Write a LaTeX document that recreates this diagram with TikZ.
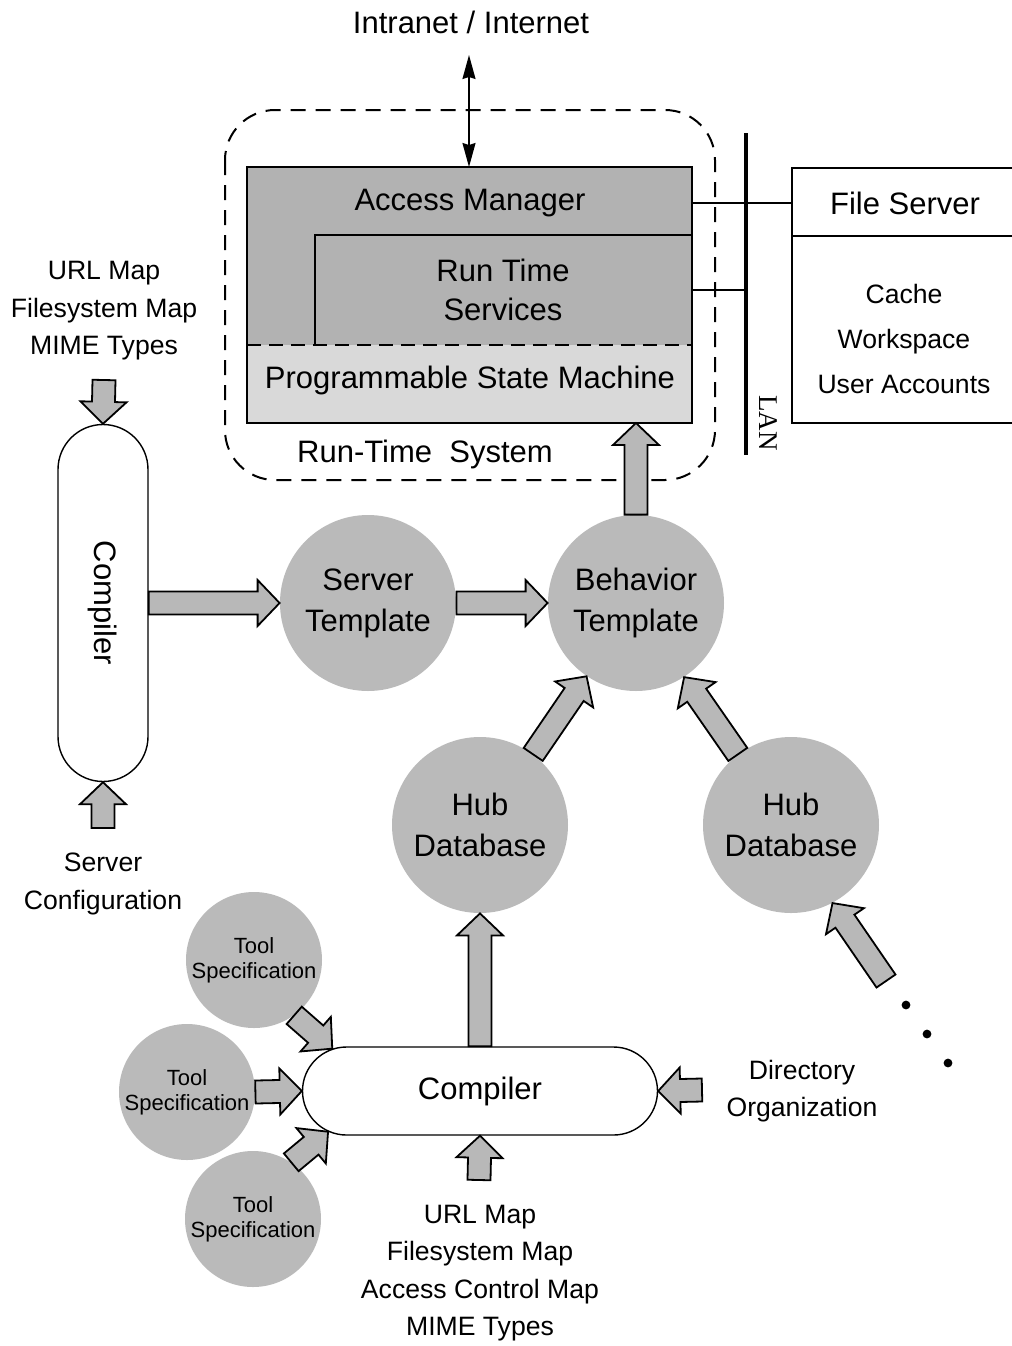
\documentclass[tikz,border=0pt]{standalone}
\usepackage{fontspec}
\setmainfont{Liberation Sans}
\newfontfamily\lanfont{Liberation Serif}
\usetikzlibrary{calc,shapes.misc,arrows.meta}
\tikzset{
  blob/.style={circle, fill=black!27, inner sep=0pt, minimum size=88pt, align=center, font=\fontsize{15.5}{20.5}\selectfont},
  toolblob/.style={blob, minimum size=68pt, font=\fontsize{11}{12.5}\selectfont},
  capsule/.style={rounded rectangle, draw, line width=0.7pt, fill=white, inner sep=0pt, font=\fontsize{15.5}{18}\selectfont},
  fatarrow/.style={draw, line width=0.9pt, fill=black!28, line join=miter},
  biglabel/.style={font=\fontsize{15.5}{20}\selectfont, align=center, inner sep=0pt},
  smalllabel/.style={font=\fontsize{13.3}{18.8}\selectfont, align=center, inner sep=0pt},
}
% block arrow from #1 to the tip #2
\newcommand{\fatarrow}[2]{%
  \coordinate (fa-t) at (#1);
  \coordinate (fa-p) at (#2);
  \coordinate (fa-h) at ($(fa-p)!11pt!(fa-t)$);
  \draw[fatarrow] ($(fa-t)!5.75pt!90:(fa-p)$) -- ($(fa-h)!5.75pt!90:(fa-p)$)
    -- ($(fa-h)!11.5pt!90:(fa-p)$) -- (fa-p) -- ($(fa-h)!11.5pt!-90:(fa-p)$)
    -- ($(fa-h)!5.75pt!-90:(fa-p)$) -- ($(fa-t)!5.75pt!-90:(fa-p)$) -- cycle;}

\begin{document}
\begin{tikzpicture}[x=0.5pt,y=-0.5pt]
  \useasboundingbox[fill=white] (0,0) rectangle (1012,1346);
  %
  % run-time system
  \node[biglabel] (inet) at (471,22) {Intranet / Internet};
  \coordinate (inetEnd) at (469,55);
  \draw[dash pattern=on 7.5pt off 5pt, line width=1pt, rounded corners=25pt] (225,110) rectangle (715,480);
  \coordinate (boxNW) at (247,167);
  \coordinate (boxSE) at (692,423);
  \coordinate (split) at (247,345);
  \fill[black!30] (boxNW) rectangle (boxSE |- split);
  \fill[black!15] (split) rectangle (boxSE);
  \draw[line width=0.6pt] (315,345) |- (692,235);
  \draw[dash pattern=on 7pt off 4pt, line width=0.9pt] (split) -- (split -| boxSE);
  \draw[line width=1.3pt] (boxNW) rectangle (boxSE);
  \node[biglabel] (am) at (470,203) {Access Manager};
  \node[biglabel, font=\fontsize{15.5}{19.5}\selectfont] (rtsv) at (503,290) {Run Time\\Services};
  \node[biglabel] (psm) at (470,380) {Programmable State Machine};
  \node[biglabel] (rtsys) at (425,454) {Run-Time\ \ System};
  \draw[{Stealth[length=12pt,width=6.5pt,inset=1pt]}-{Stealth[length=12pt,width=6.5pt,inset=1pt]}, line width=0.8pt] (inetEnd) -- (inetEnd |- boxNW);
  %
  % LAN and file server
  \draw[line width=2pt] (746,133) coordinate (lanT) -- (746,455) coordinate (lanB);
  \node[rotate=-90, inner sep=0pt, font=\lanfont\fontsize{13.5}{15}\selectfont] (lan) at (768,423) {LAN};
  \coordinate (fsL) at (792,168);
  \draw[line width=1.1pt] (1012,168) -- (fsL) -- (792,423) -- (1012,423);
  \draw[line width=0.6pt] (792,236) -- (1012,236);
  \node[biglabel] (fs) at (905,203) {File Server};
  \node[smalllabel, font=\fontsize{13.3}{22.3}\selectfont] (fsdata) at (904,339) {Cache\\Workspace\\User Accounts};
  \draw[line width=0.6pt] (boxSE |- am) -- (fsL |- am);
  \draw[line width=0.6pt] (boxSE |- rtsv) -- (lanT |- rtsv);
  %
  % server side
  \node[smalllabel] (mapsA) at (104,311) {URL Map\\Filesystem Map\\MIME Types};
  \node[smalllabel] (srvcfg) at (103,884) {Server\\Configuration};
  \node[capsule, rotate=-90, minimum width=178.5pt, minimum height=45pt] (compA) at (103,603) {Compiler};
  \coordinate (mapsEnd) at (104,380);
  \coordinate (cfgEnd) at (103,828);
  \node[blob] (servt) at (368,603) {Server\\Template};
  \node[blob] (behav) at (636,603) {Behavior\\Template};
  \node[blob] (hubA) at (480,825) {Hub\\Database};
  \node[blob] (hubB) at (791,825) {Hub\\Database};
  \fatarrow{mapsEnd}{compA.west}
  \fatarrow{cfgEnd}{compA.east}
  \fatarrow{compA.north}{servt.west}
  \fatarrow{servt.east}{behav.west}
  \fatarrow{behav.north}{behav.north |- boxSE}
  \fatarrow{hubA.53}{behav.236}
  \fatarrow{hubB.127}{behav.303}
  %
  % hub side
  \node[capsule, minimum width=177.5pt, minimum height=44pt] (compB) at (480,1091) {Compiler};
  \node[toolblob] (toolA) at (254,960) {Tool\\Specification};
  \node[toolblob] (toolB) at (187,1092) {Tool\\Specification};
  \node[toolblob] (toolC) at (253,1219) {Tool\\Specification};
  \node[smalllabel] (mapsB) at (480,1273) {URL Map\\Filesystem Map\\Access Control Map\\MIME Types};
  \node[smalllabel] (dirorg) at (802,1091) {Directory\\Organization};
  \coordinate (mapsBEnd) at (479,1180);
  \coordinate (dirEnd) at (702,1090);
  \coordinate (moreEnd) at (886,981);
  \fatarrow{compB.north}{hubA.south}
  \fatarrow{mapsBEnd}{compB.south}
  \fatarrow{dirEnd}{compB.east}
  \fatarrow{toolB.east}{compB.west}
  \fatarrow{toolA.-54}{compB.164}
  \fatarrow{toolC.56}{compB.195}
  \fatarrow{moreEnd}{hubB.298}
  \foreach \dx/\dy in {906/1005, 927/1034, 948/1063}
    \fill (\dx,\dy) circle (2.2pt);
\end{tikzpicture}
\end{document}
